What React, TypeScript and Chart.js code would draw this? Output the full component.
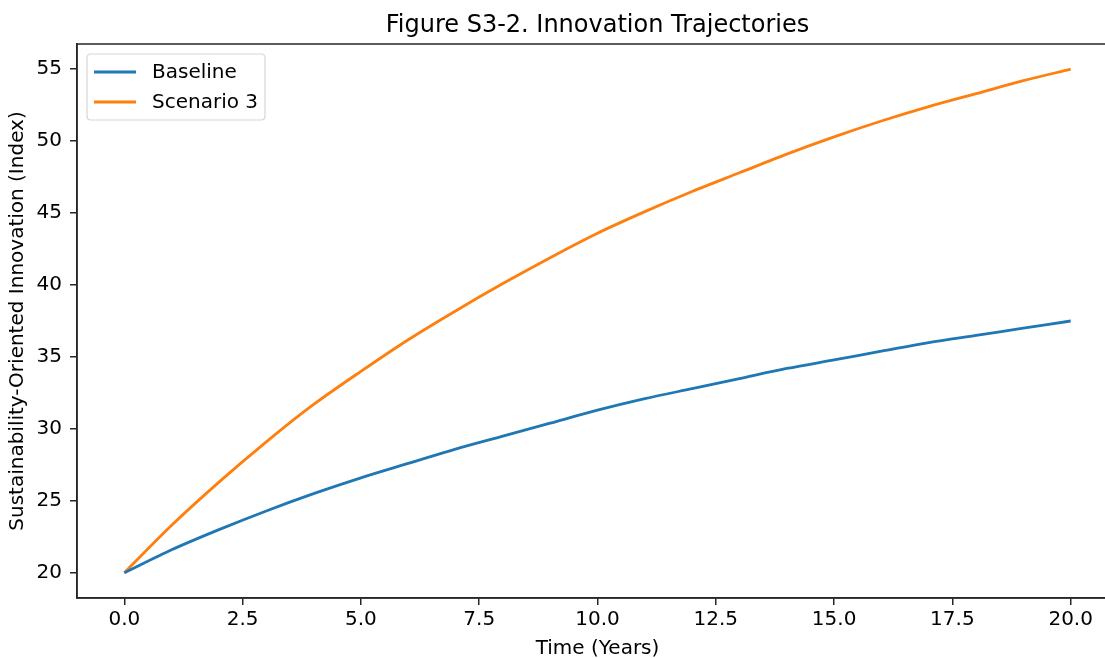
import React, { useEffect, useRef } from "react";
import { Chart, registerables } from "chart.js";

Chart.register(...registerables);

const years = [0, 1, 2, 3, 4, 5, 6, 7, 8, 9, 10, 11, 12, 13, 14, 15, 16, 17, 18, 19, 20];
const baseline = [20, 21.6, 23.0, 24.3, 25.5, 26.6, 27.6, 28.6, 29.5, 30.4, 31.3, 32.1, 32.8, 33.5, 34.2, 34.8, 35.4, 36.0, 36.5, 37.0, 37.5];
const scenario3 = [20, 23.3, 26.3, 29.1, 31.7, 34.0, 36.2, 38.2, 40.1, 41.9, 43.6, 45.1, 46.5, 47.8, 49.1, 50.3, 51.4, 52.4, 53.3, 54.2, 55.0];
const xTicks = [0, 2.5, 5, 7.5, 10, 12.5, 15, 17.5, 20];
const yTicks = [20, 25, 30, 35, 40, 45, 50, 55];
const seriesNames = ["Baseline", "Scenario 3"];
const seriesColors = ["#1f77b4", "#ff7f0e"];
const titleText = "Figure S3-2. Innovation Trajectories";
const xTitle = "Time (Years)";
const yTitle = "Sustainability-Oriented Innovation (Index)";

const FONT = "'DejaVu Sans', sans-serif";
const W = 1125;
const H = 658;
const SPINE = "#262626";

const decorPlugin = {
  id: "decor",
  afterDraw(chart: any) {
    const ctx = chart.ctx;
    const a = chart.chartArea;
    ctx.save();
    // frame
    ctx.strokeStyle = SPINE;
    ctx.lineWidth = 1.5;
    ctx.strokeRect(a.left, a.top, a.right - a.left, a.bottom - a.top);
    // title
    ctx.fillStyle = "#000";
    ctx.font = `24px ${FONT}`;
    ctx.textAlign = "center";
    ctx.textBaseline = "middle";
    ctx.fillText(titleText, (a.left + a.right) / 2, 26);
    // legend
    const lx = a.left + 10, ly = a.top + 10, lw = 178, lh = 66;
    ctx.beginPath();
    const r = 4;
    ctx.moveTo(lx + r, ly);
    ctx.lineTo(lx + lw - r, ly);
    ctx.quadraticCurveTo(lx + lw, ly, lx + lw, ly + r);
    ctx.lineTo(lx + lw, ly + lh - r);
    ctx.quadraticCurveTo(lx + lw, ly + lh, lx + lw - r, ly + lh);
    ctx.lineTo(lx + r, ly + lh);
    ctx.quadraticCurveTo(lx, ly + lh, lx, ly + lh - r);
    ctx.lineTo(lx, ly + r);
    ctx.quadraticCurveTo(lx, ly, lx + r, ly);
    ctx.closePath();
    ctx.fillStyle = "rgba(255,255,255,0.8)";
    ctx.fill();
    ctx.strokeStyle = "#d6d6d6";
    ctx.lineWidth = 1.2;
    ctx.stroke();
    chart.data.datasets.forEach((ds: any, i: number) => {
      const y = ly + 18 + i * 30;
      ctx.strokeStyle = ds.borderColor;
      ctx.lineWidth = 2.8;
      ctx.beginPath();
      ctx.moveTo(lx + 7, y);
      ctx.lineTo(lx + 49, y);
      ctx.stroke();
      ctx.fillStyle = "#000";
      ctx.font = `20px ${FONT}`;
      ctx.textAlign = "left";
      ctx.textBaseline = "middle";
      ctx.fillText(ds.label, lx + 65, y + 1);
    });
    ctx.restore();
  },
};

export default function App() {
  const ref = useRef<HTMLCanvasElement | null>(null);
  useEffect(() => {
    document.body.style.margin = "0";
    const canvas = ref.current!;
    const chart = new Chart(canvas, {
      type: "line",
      data: {
        labels: years,
        datasets: [
          {
            label: seriesNames[0],
            data: years.map((x, i) => ({ x, y: baseline[i] })),
            borderColor: seriesColors[0],
            backgroundColor: seriesColors[0],
            borderWidth: 2.8,
            pointRadius: 0,
            tension: 0.3,
            fill: false,
          },
          {
            label: seriesNames[1],
            data: years.map((x, i) => ({ x, y: scenario3[i] })),
            borderColor: seriesColors[1],
            backgroundColor: seriesColors[1],
            borderWidth: 2.8,
            pointRadius: 0,
            tension: 0.3,
            fill: false,
          },
        ],
      },
      options: {
        responsive: false,
        animation: false,
        devicePixelRatio: 1,
        layout: { padding: { top: 44, right: 7, left: 0, bottom: 0 } },
        plugins: {
          legend: { display: false },
          title: { display: false },
          tooltip: { enabled: false },
        },
        scales: {
          x: {
            type: "linear",
            min: -1,
            max: 21,
            afterBuildTicks: (s: any) => {
              s.ticks = xTicks.map((v) => ({ value: v }));
            },
            afterFit: (s: any) => {
              s.height = 60;
            },
            ticks: {
              autoSkip: false,
              maxRotation: 0,
              padding: 3,
              color: "#000",
              font: { family: FONT, size: 20 },
              callback: (v: any) => Number(v).toFixed(1),
            },
            grid: { drawOnChartArea: false, drawTicks: true, tickLength: 7, color: SPINE, lineWidth: 1.5 },
            border: { display: true, color: SPINE, width: 1.5 },
            title: { display: true, text: xTitle, color: "#000", font: { family: FONT, size: 20 }, padding: { top: -3, bottom: -3 } },
          },
          y: {
            type: "linear",
            min: 18.25,
            max: 56.75,
            afterBuildTicks: (s: any) => {
              s.ticks = yTicks.map((v) => ({ value: v }));
            },
            afterFit: (s: any) => {
              s.width = 77;
            },
            ticks: {
              padding: 8,
              color: "#000",
              font: { family: FONT, size: 20 },
              callback: (v: any) => String(v),
            },
            grid: { drawOnChartArea: false, drawTicks: true, tickLength: 7, color: SPINE, lineWidth: 1.5 },
            border: { display: true, color: SPINE, width: 1.5 },
            title: { display: true, text: yTitle, color: "#000", font: { family: FONT, size: 20 }, padding: { top: 6, bottom: 0 } },
          },
        },
      },
      plugins: [decorPlugin],
    } as any);
    return () => chart.destroy();
  }, []);
  return (
    <div style={{ position: "fixed", left: 0, top: 0, width: 1105, height: H, overflow: "hidden", background: "#fff" }}>
      <canvas ref={ref} width={W} height={H} style={{ width: W, height: H, display: "block" }} />
    </div>
  );
}
